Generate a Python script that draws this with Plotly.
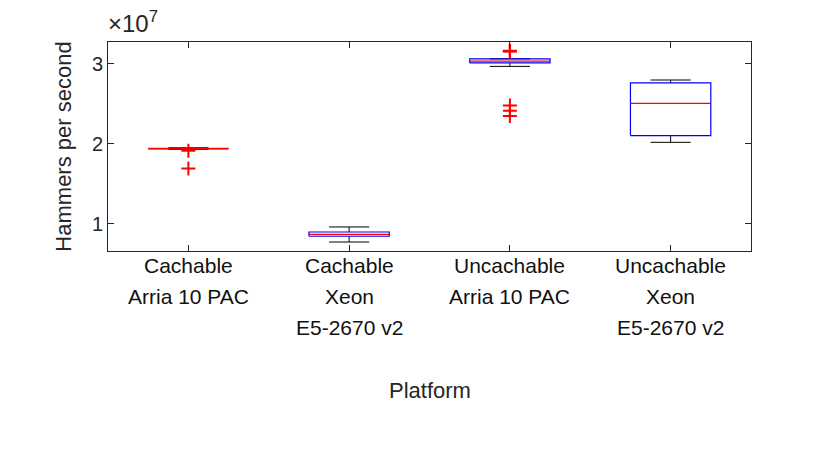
import plotly.graph_objects as go

# ---- data (values in hammers per second) ----
categories = [["Cachable", "Arria 10 PAC"],
              ["Cachable", "Xeon", "E5-2670 v2"],
              ["Uncachable", "Arria 10 PAC"],
              ["Uncachable", "Xeon", "E5-2670 v2"]]
positions = [1, 2, 3, 4]
q1 = [1.935e7, 0.842e7, 3.008e7, 2.100e7]
median = [1.940e7, 0.866e7, 3.030e7, 2.504e7]
q3 = [1.944e7, 0.895e7, 3.060e7, 2.760e7]
lower_whisker = [1.930e7, 0.770e7, 2.965e7, 2.016e7]
upper_whisker = [1.948e7, 0.958e7, 3.060e7, 2.795e7]
outliers = [[1.912e7, 1.690e7],
            [],
            [3.150e7, 3.155e7, 3.160e7, 2.475e7, 2.410e7, 2.345e7],
            []]
ytick_vals = [1e7, 2e7, 3e7]
ytick_text = ["1", "2", "3"]

BOX_HALF = 0.25
CAP_HALF = 0.125
FONT = "Liberation Sans, Arial, Helvetica, sans-serif"
AXC = "#262626"

fig = go.Figure()

# whiskers (black)
wx, wy = [], []
for p, a, b, lo, hi in zip(positions, q1, q3, lower_whisker, upper_whisker):
    wx += [p, p, None, p, p, None, p - CAP_HALF, p + CAP_HALF, None, p - CAP_HALF, p + CAP_HALF, None]
    wy += [b, hi, None, a, lo, None, hi, hi, None, lo, lo, None]
fig.add_trace(go.Scatter(x=wx, y=wy, mode="lines", line=dict(color="black", width=1),
                         hoverinfo="skip", showlegend=False))

# boxes (blue)
bx, by = [], []
for p, a, b in zip(positions, q1, q3):
    bx += [p - BOX_HALF, p + BOX_HALF, p + BOX_HALF, p - BOX_HALF, p - BOX_HALF, None]
    by += [a, a, b, b, a, None]
fig.add_trace(go.Scatter(x=bx, y=by, mode="lines", line=dict(color="#0000ff", width=1.2),
                         hoverinfo="skip", showlegend=False))

# medians (red)
mx, my = [], []
for p, m in zip(positions, median):
    mx += [p - BOX_HALF, p + BOX_HALF, None]
    my += [m, m, None]
fig.add_trace(go.Scatter(x=mx, y=my, mode="lines", line=dict(color="#ff0000", width=1.2),
                         hoverinfo="skip", showlegend=False))

# outliers (red +)
ox, oy = [], []
for p, outs in zip(positions, outliers):
    for v in outs:
        ox.append(p)
        oy.append(v)
fig.add_trace(go.Scatter(x=ox, y=oy, mode="markers",
                         marker=dict(symbol="cross-thin", size=10, line=dict(color="#ff0000", width=2)),
                         showlegend=False))

# category labels, one annotation per line
line_offsets = [14, 45, 76]
annotations = []
for p, lines in zip(positions, categories):
    for k, t in enumerate(lines):
        annotations.append(dict(x=p, xref="x", y=0, yref="paper", text=t, showarrow=False,
                                xanchor="center", yanchor="middle", yshift=-line_offsets[k],
                                font=dict(family=FONT, size=21, color="#111111")))
annotations.append(dict(x=0.5, xref="paper", y=0, yref="paper", text="Platform", showarrow=False,
                        xanchor="center", yanchor="middle", yshift=-139,
                        font=dict(family=FONT, size=22, color=AXC)))
annotations.append(dict(x=0, xref="paper", y=1, yref="paper", text="×10<sup>7</sup>", showarrow=False,
                        xanchor="left", yanchor="middle", yshift=20, xshift=-2,
                        font=dict(family=FONT, size=24, color=AXC)))

# page body adds ~8px offset; margins compensate
fig.update_layout(
    width=830, height=449,
    margin=dict(l=100.3, r=87, t=33.7, b=206.3),
    paper_bgcolor="white", plot_bgcolor="white",
    font=dict(family=FONT, size=20, color=AXC),
    annotations=annotations,
    xaxis=dict(range=[0.5, 4.5], tickvals=positions, showticklabels=False,
               ticks="inside", ticklen=6, tickcolor=AXC, tickwidth=1,
               showline=True, linecolor=AXC, linewidth=1, mirror="ticks",
               showgrid=False, zeroline=False),
    yaxis=dict(range=[0.6575e7, 3.27e7], tickvals=ytick_vals, ticktext=ytick_text,
               ticks="inside", ticklen=6, tickcolor=AXC, tickwidth=1,
               showline=True, linecolor=AXC, linewidth=1, mirror="ticks",
               showgrid=False, zeroline=False,
               tickfont=dict(family=FONT, size=20, color=AXC),
               title=dict(text="Hammers per second", standoff=14,
                          font=dict(family=FONT, size=22, color=AXC))),
)

fig.write_html("out.html")
